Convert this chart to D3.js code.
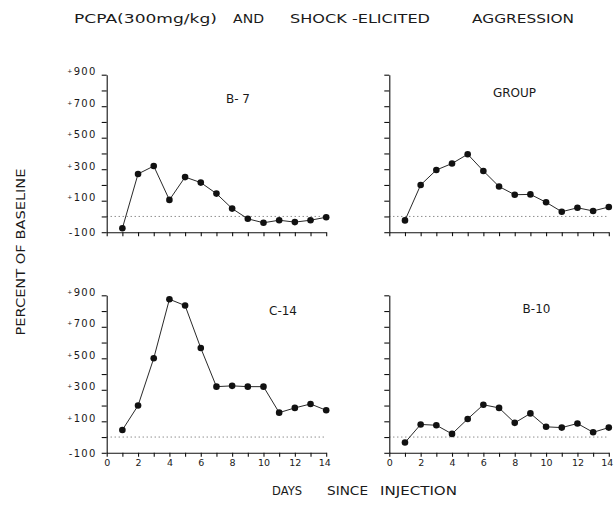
<!DOCTYPE html>
<html>
<head>
<meta charset="utf-8">
<script src="https://cdn.jsdelivr.net/npm/d3@7"></script>
<style>
	body { margin: 0; background: #fff; }
	svg text { font-family: "DejaVu Sans", sans-serif; fill: #1a1a1a; }
	.axis path, .axis line { stroke: #111; stroke-width: 1.1; }
	.axis text { font-size: 10px; letter-spacing: 1.3px; fill: #1a1a1a; }
	.x.axis text { font-size: 9.5px; letter-spacing: 0; }
</style>
</head>
<body>
<svg id="chart" width="614" height="508"></svg>
<script>
// days since injection
const days = [1, 2, 3, 4, 5, 6, 7, 8, 9, 10, 11, 12, 13, 14];

// percent of baseline
const b7 = [-75, 270, 320, 105, 250, 215, 145, 50, -15, -40, -24, -36, -24, -5];
const group = [-25, 200, 295, 336, 395, 289, 190, 138, 140, 90, 30, 55, 35, 60];
const c14 = [45, 200, 500, 875, 835, 565, 320, 325, 320, 320, 155, 185, 210, 170];
const b10 = [-35, 80, 75, 20, 115, 205, 185, 90, 150, 65, 60, 86, 30, 60];

const yTicks = [-100, 0, 100, 200, 300, 400, 500, 600, 700, 800, 900];
const yLabelTicks = [-100, 100, 300, 500, 700, 900];
const xTicks = [0, 1, 2, 3, 4, 5, 6, 7, 8, 9, 10, 11, 12, 13, 14];
const xLabelTicks = [0, 2, 4, 6, 8, 10, 12, 14];

const svg = d3.select('#chart');

const panelWidth = 219.5;
const panelHeight = 157.5;

const panels = [
	{ name: 'B- 7', values: b7, left: 106.7, top: 74.7, showY: true, showX: false, lx: 238, ly: 99 },
	{ name: 'GROUP', values: group, left: 389.3, top: 74.7, showY: false, showX: false, lx: 514.5, ly: 93 },
	{ name: 'C-14', values: c14, left: 106.7, top: 295.3, showY: true, showX: true, lx: 283, ly: 311 },
	{ name: 'B-10', values: b10, left: 389.3, top: 295.3, showY: false, showX: true, lx: 536.5, ly: 309 }
];

function drawPanel(p) {
	const x = d3.scaleLinear().domain([0, 14]).range([0, panelWidth]);
	const y = d3.scaleLinear().domain([-100, 900]).range([panelHeight, 0]);

	const g = svg.append('g').attr('transform', `translate(${p.left},${p.top})`);

	// dotted baseline at 0 %
	g.append('line')
		.attr('x1', x(0)).attr('x2', x(14))
		.attr('y1', y(0)).attr('y2', y(0))
		.attr('stroke', '#333')
		.attr('stroke-width', 0.8)
		.attr('stroke-dasharray', '1,3');

	const yAxis = d3.axisLeft(y)
		.tickValues(yTicks)
		.tickSizeInner(5)
		.tickSizeOuter(0)
		.tickPadding(5)
		.tickFormat((d) => p.showY && yLabelTicks.includes(d) ? String(d) : '');

	g.append('g')
		.attr('class', 'y axis')
		.call(yAxis)
		.selectAll('text')
		.each(function (d) {
			// the print uses a tiny raised plus sign
			if (p.showY && d > 0 && yLabelTicks.includes(d)) {
				const t = d3.select(this);
				t.text(null);
				t.append('tspan').attr('font-size', 6).attr('dy', -2).text('+');
				t.append('tspan').attr('dy', 2).text(d);
			}
		});

	const xAxis = d3.axisBottom(x)
		.tickValues(xTicks)
		.tickSizeInner(4)
		.tickSizeOuter(0)
		.tickPadding(2)
		.tickFormat((d) => p.showX && xLabelTicks.includes(d) ? String(d) : '');

	g.append('g')
		.attr('class', 'x axis')
		.attr('transform', `translate(0,${panelHeight})`)
		.call(xAxis)
		.selectAll('text')
		.filter((d) => d === 14)
		.attr('dx', -2);

	const pts = days.map((d, i) => ({ day: d, v: p.values[i] }));

	const line = d3.line()
		.x((d) => x(d.day))
		.y((d) => y(d.v));

	g.append('path')
		.datum(pts)
		.attr('d', line)
		.attr('fill', 'none')
		.attr('stroke', '#111')
		.attr('stroke-width', 0.9);

	g.selectAll('circle')
		.data(pts)
		.join('circle')
		.attr('cx', (d) => x(d.day))
		.attr('cy', (d) => y(d.v))
		.attr('r', 3.3)
		.attr('fill', '#111');

	svg.append('text')
		.attr('x', p.lx)
		.attr('y', p.ly)
		.attr('text-anchor', 'middle')
		.attr('dominant-baseline', 'central')
		.attr('font-size', 12)
		.text(p.name);
}

panels.forEach(drawPanel);

// title, spaced out as in the print
const titleParts = [
	{ text: 'PCPA(300mg/kg)', x: 74, w: 143 },
	{ text: 'AND', x: 233, w: 31 },
	{ text: 'SHOCK -ELICITED', x: 290, w: 140 },
	{ text: 'AGGRESSION', x: 472, w: 102 }
];

svg.selectAll('text.title')
	.data(titleParts)
	.join('text')
	.attr('class', 'title')
	.attr('x', (d) => d.x)
	.attr('y', 23)
	.attr('font-size', 13)
	.attr('textLength', (d) => d.w)
	.attr('lengthAdjust', 'spacingAndGlyphs')
	.text((d) => d.text);

const xLabelParts = [
	{ text: 'DAYS', x: 272, w: 30 },
	{ text: 'SINCE', x: 327, w: 41 },
	{ text: 'INJECTION', x: 380, w: 77 }
];

svg.selectAll('text.xlabel')
	.data(xLabelParts)
	.join('text')
	.attr('class', 'xlabel')
	.attr('x', (d) => d.x)
	.attr('y', 495)
	.attr('font-size', 12)
	.attr('textLength', (d) => d.w)
	.attr('lengthAdjust', 'spacingAndGlyphs')
	.text((d) => d.text);

svg.append('text')
	.attr('transform', 'translate(25,252) rotate(-90)')
	.attr('text-anchor', 'middle')
	.attr('font-size', 12)
	.attr('textLength', 167)
	.attr('lengthAdjust', 'spacingAndGlyphs')
	.text('PERCENT  OF  BASELINE');
</script>
</body>
</html>
